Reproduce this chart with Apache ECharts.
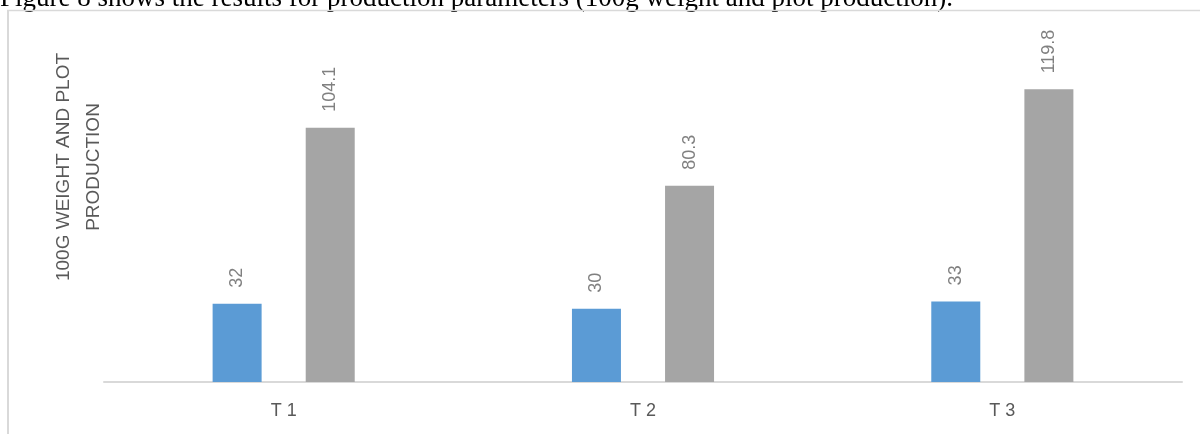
<!DOCTYPE html>
<html>
<head>
<meta charset="utf-8">
<script src="https://cdn.jsdelivr.net/npm/echarts@6/dist/echarts.min.js"></script>
<style>
  html, body { margin: 0; padding: 0; background: #ffffff; }
  #chart { width: 1200px; height: 434px; }
</style>
</head>
<body>
<div id="chart"></div>
<script>
// Treatments on the category axis
const categories = ['T 1', 'T 2', 'T 3'];
// 100 g weight and plot production per treatment
const weight100g = [32, 30, 33];
const plotProduction = [104.1, 80.3, 119.8];

const captionText = 'Figure 8 shows the results for production parameters (100g weight and plot production).';
const yTitleLines = ['100G WEIGHT AND PLOT', 'PRODUCTION'];

const chart = echarts.init(document.getElementById('chart'), null, { renderer: 'canvas' });

const labelStyle = {
  show: true,
  position: 'top',
  distance: 16,
  rotate: 90,
  align: 'left',
  verticalAlign: 'middle',
  fontFamily: 'Liberation Sans',
  fontSize: 18,
  color: '#808080'
};

chart.setOption({
  animation: false,
  backgroundColor: '#ffffff',
  grid: { left: 104, right: 18, top: 40, bottom: 52 },
  xAxis: {
    type: 'category',
    data: categories,
    axisLine: { show: true, lineStyle: { color: '#d9d9d9', width: 2 } },
    axisTick: { show: false },
    axisLabel: {
      margin: 20,
      fontFamily: 'Liberation Sans',
      fontSize: 18,
      color: '#595959'
    },
    splitLine: { show: false }
  },
  yAxis: {
    type: 'value',
    min: 0,
    max: 140,
    show: false
  },
  series: [
    {
      name: '100g weight',
      type: 'bar',
      data: weight100g,
      barWidth: 49,
      barGap: '90%',
      itemStyle: { color: '#5b9bd5' },
      label: labelStyle
    },
    {
      name: 'Plot production',
      type: 'bar',
      data: plotProduction,
      barWidth: 49,
      itemStyle: { color: '#a5a5a5' },
      label: labelStyle
    }
  ],
  graphic: [
    // caption line of the surrounding text, clipped by the top edge
    {
      type: 'text',
      left: 0,
      top: -15,
      style: {
        text: captionText,
        fontFamily: 'Liberation Serif',
        fontSize: 27,
        fill: '#000000'
      }
    },
    // frame of the chart area: top and left edges
    {
      type: 'line',
      shape: { x1: 7, y1: 10.5, x2: 1200, y2: 10.5 },
      style: { stroke: '#d9d9d9', lineWidth: 1.5 }
    },
    {
      type: 'line',
      shape: { x1: 8, y1: 10, x2: 8, y2: 434 },
      style: { stroke: '#d9d9d9', lineWidth: 2 }
    },
    // vertical axis title
    {
      type: 'text',
      x: 79,
      y: 167,
      rotation: Math.PI / 2,
      style: {
        text: yTitleLines.join('\n'),
        fontFamily: 'Liberation Sans',
        fontSize: 19,
        lineHeight: 30,
        fill: '#595959',
        align: 'center',
        verticalAlign: 'middle'
      }
    }
  ]
});
</script>
</body>
</html>
